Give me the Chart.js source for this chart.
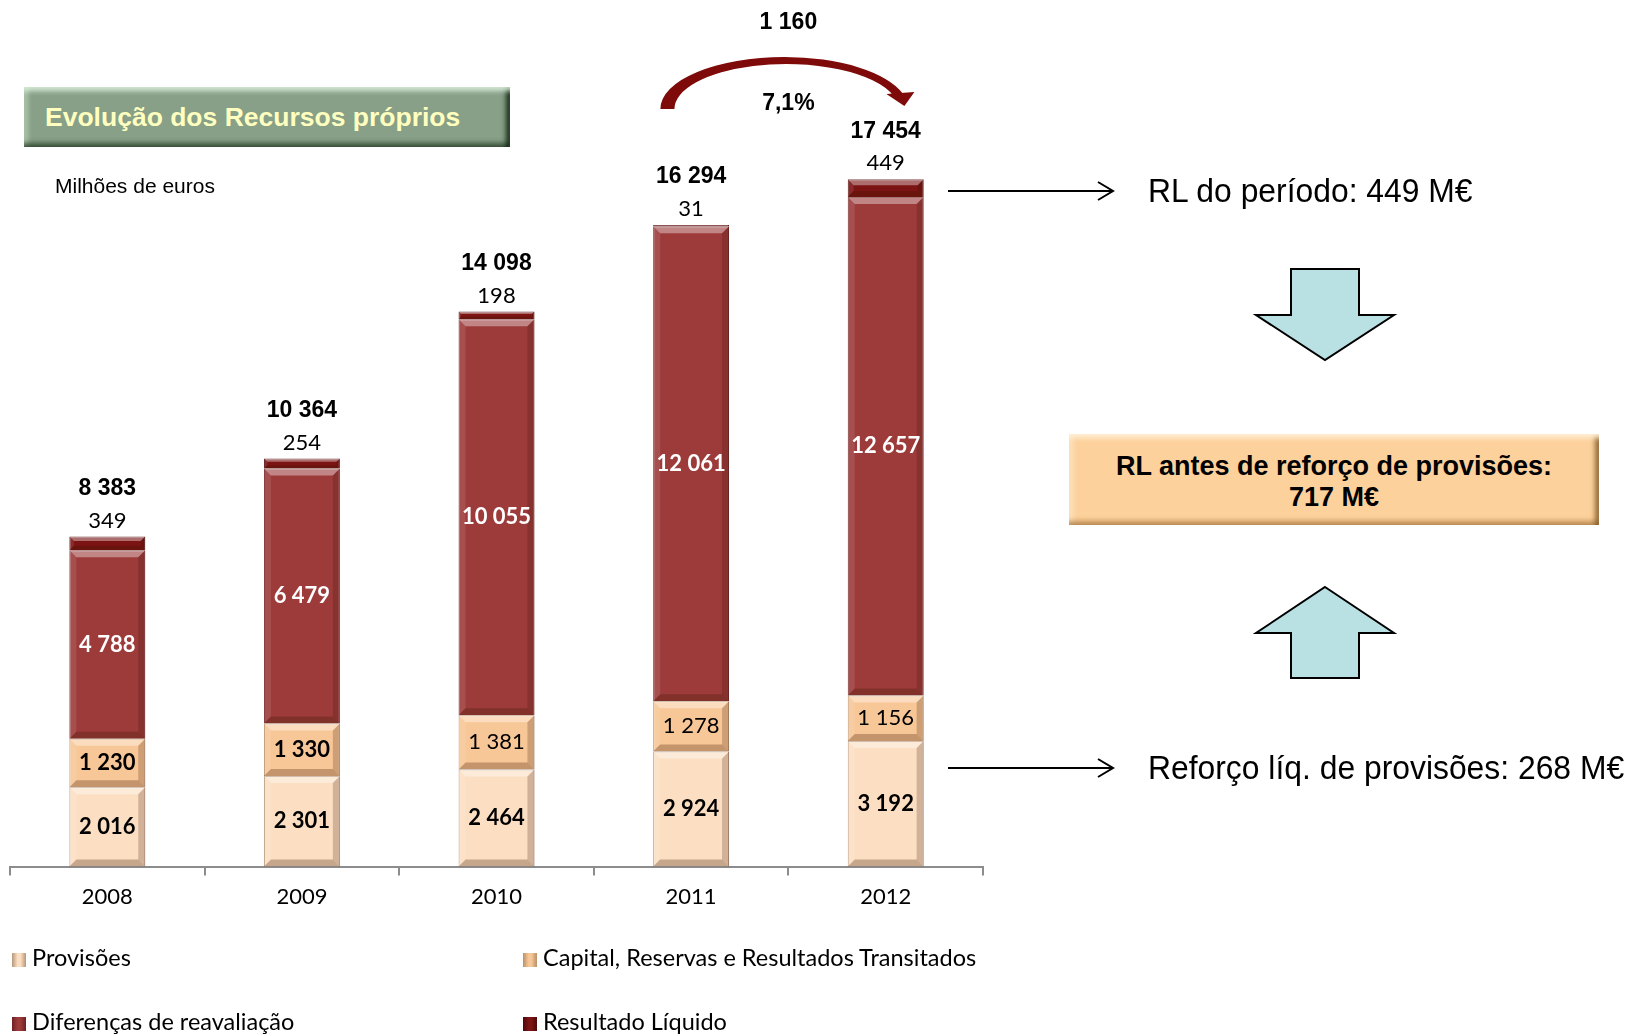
<!DOCTYPE html>
<html lang="pt">
<head>
<meta charset="utf-8">
<title>Evolução dos Recursos próprios</title>
<script src="https://cdn.jsdelivr.net/npm/chart.js@4.4.1/dist/chart.umd.min.js"></script>
<style>
  html, body { margin: 0; padding: 0; background: #fff; }
  #wrap { position: relative; width: 1637px; height: 1035px; overflow: hidden; font-family: 'Liberation Sans', Arial, sans-serif; }
  #chartBox { position: absolute; left: 0; top: 0; width: 1637px; height: 1035px; }
  .titleBox {
    position: absolute; left: 24px; top: 87px; width: 486px; height: 60px; box-sizing: border-box;
    background: #87a087; color: #ffffc0; font-weight: bold; font-size: 26.5px; line-height: 60px; padding-left: 21px; white-space: nowrap;
    box-shadow: inset 0 7px 5px -3px rgba(225,245,225,.85), inset -7px 0 5px -3px rgba(15,35,15,.9),
                inset 0 -7px 5px -3px rgba(30,50,30,.7), inset 7px 0 5px -3px rgba(200,225,200,.6);
  }
  .unit { position: absolute; left: 55px; top: 174px; font-size: 21px; }
  .note {
    position: absolute; left: 1148px; font-family: 'Liberation Sans Narrow', 'Liberation Sans', sans-serif; font-size: 33px;
    white-space: nowrap; transform: scaleX(0.965); transform-origin: left center;
  }
  .orangeBox {
    position: absolute; left: 1069px; top: 434px; width: 530px; height: 91px; box-sizing: border-box;
    background: #fcd19c; text-align: center; font-family: 'Liberation Sans Narrow', 'Liberation Sans', sans-serif;
    font-weight: bold; font-size: 27px; line-height: 31px; padding-top: 17px;
    box-shadow: inset 0 7px 5px -3px rgba(255,240,215,.95), inset -7px 0 5px -3px rgba(120,80,30,.8),
                inset 0 -7px 5px -3px rgba(150,100,40,.6), inset 7px 0 5px -3px rgba(255,235,205,.7);
  }
  #legend { position: absolute; left: 0; top: 0; }
  .lg { position: absolute; font-family: Lato, sans-serif; font-size: 23.5px; white-space: nowrap; line-height: 26px; }
  .lg i { display: inline-block; width: 14px; height: 14px; margin-right: 6px; vertical-align: -1px; }
  svg { position: absolute; left: 0; top: 0; }
</style>
</head>
<body>
<div id="wrap">
  <div id="chartBox"><canvas id="chart"></canvas></div>
  <div class="titleBox">Evolução dos Recursos próprios</div>
  <div class="unit">Milhões de euros</div>
  <div class="note" style="top:172px">RL do período: 449 M€</div>
  <div class="note" style="top:749px">Reforço líq. de provisões: 268 M€</div>
  <div class="orangeBox">RL antes de reforço de provisões:<br>717 M€</div>
  <svg width="1637" height="1035">
    <g stroke="#000" stroke-width="2" fill="none">
      <line x1="948" y1="191" x2="1112" y2="191"/>
      <polyline points="1098,182 1113,191 1098,200"/>
      <line x1="948" y1="768" x2="1112" y2="768"/>
      <polyline points="1098,759 1113,768 1098,777"/>
    </g>
    <g stroke="#000" stroke-width="2" fill="#b9e0e3">
      <polygon points="1291,269 1359,269 1359,315 1394,315 1325,360 1256,315 1291,315"/>
      <polygon points="1325,587 1394,633 1359,633 1359,678 1291,678 1291,633 1256,633"/>
    </g>
  </svg>
  <div id="legend"></div>
</div>
<script>
const years = ['2008', '2009', '2010', '2011', '2012'];
const provisoes = [2016, 2301, 2464, 2924, 3192];
const capital = [1230, 1330, 1381, 1278, 1156];
const reavaliacao = [4788, 6479, 10055, 12061, 12657];
const resultado = [349, 254, 198, 31, 449];

// bold labels only on the first two capital segments
const capitalBold = [true, true, false, false, false];

const fmt = n => String(n).replace(/\B(?=(\d{3})+(?!\d))/g, ' ');
const totals = years.map((_, i) => provisoes[i] + capital[i] + reavaliacao[i] + resultado[i]);

const bevelPlugin = {
  id: 'bevel',
  afterDatasetsDraw(chart) {
    const ctx = chart.ctx;
    chart.data.datasets.forEach((ds, di) => {
      chart.getDatasetMeta(di).data.forEach(bar => {
        const { x, y, base, width } = bar.getProps(['x', 'y', 'base', 'width'], true);
        const l = x - width / 2, r = x + width / 2;
        const t = Math.min(y, base), b = Math.max(y, base);
        const e = Math.min(7, (b - t) / 3);
        ctx.save();
        ctx.fillStyle = 'rgba(255,255,255,0.38)';
        ctx.beginPath(); ctx.moveTo(l, t); ctx.lineTo(r, t); ctx.lineTo(r - e, t + e); ctx.lineTo(l + e, t + e); ctx.closePath(); ctx.fill();
        ctx.fillStyle = 'rgba(255,255,255,0.10)';
        ctx.beginPath(); ctx.moveTo(l, t); ctx.lineTo(l + e, t + e); ctx.lineTo(l + e, b - e); ctx.lineTo(l, b); ctx.closePath(); ctx.fill();
        ctx.fillStyle = 'rgba(60,20,0,0.22)';
        ctx.beginPath(); ctx.moveTo(r, t); ctx.lineTo(r, b); ctx.lineTo(r - e, b - e); ctx.lineTo(r - e, t + e); ctx.closePath(); ctx.fill();
        ctx.fillStyle = 'rgba(60,20,0,0.28)';
        ctx.beginPath(); ctx.moveTo(l, b); ctx.lineTo(r, b); ctx.lineTo(r - e, b - e); ctx.lineTo(l + e, b - e); ctx.closePath(); ctx.fill();
        ctx.restore();
      });
    });
  }
};

const labelPlugin = {
  id: 'barLabels',
  afterDatasetsDraw(chart) {
    const ctx = chart.ctx;
    ctx.save();
    ctx.textAlign = 'center';
    ctx.textBaseline = 'middle';
    const metas = [0, 1, 2, 3].map(i => chart.getDatasetMeta(i).data);
    years.forEach((_, i) => {
      const seg = k => metas[k][i].getProps(['x', 'y', 'base'], true);
      const p = seg(0), c = seg(1), d = seg(2), rl = seg(3);
      ctx.fillStyle = '#000';
      ctx.font = 'bold 22px Lato';
      ctx.fillText(fmt(provisoes[i]), p.x, (p.y + p.base) / 2);
      ctx.font = (capitalBold[i] ? 'bold ' : '') + '22px Lato';
      ctx.fillText(fmt(capital[i]), c.x, (c.y + c.base) / 2);
      ctx.fillStyle = '#fff';
      ctx.font = 'bold 22px Lato';
      ctx.fillText(fmt(reavaliacao[i]), d.x, (d.y + d.base) / 2);
      ctx.fillStyle = '#000';
      ctx.font = '22px Lato';
      ctx.fillText(fmt(resultado[i]), rl.x, rl.y - 16);
      ctx.font = 'bold 23px "Liberation Sans"';
      ctx.fillText(fmt(totals[i]), rl.x, rl.y - 48);
    });
    ctx.restore();
  }
};

// curved growth arrow between the last two bars
const growthPlugin = {
  id: 'growth',
  afterDraw(chart) {
    const ctx = chart.ctx;
    const xs = chart.scales.x;
    const x1 = xs.getPixelForValue(3), x2 = xs.getPixelForValue(4);
    const cx = (x1 + x2) / 2 - 4;
    const cy = 109;
    const diff = totals[4] - totals[3];
    const pct = (diff / totals[3] * 100).toFixed(1).replace('.', ',');
    ctx.save();
    ctx.fillStyle = '#7e0a0a';
    ctx.beginPath();
    ctx.ellipse(cx, cy, 124, 52, 0, Math.PI, 2 * Math.PI - 0.3, false);
    ctx.ellipse(cx + 2, cy, 112, 45, 0, 2 * Math.PI - 0.3, Math.PI, true);
    ctx.closePath();
    ctx.fill();
    const hx = cx + 118;
    ctx.beginPath();
    ctx.moveTo(hx - 16, 94); ctx.lineTo(hx + 12, 92); ctx.lineTo(hx + 2, 106);
    ctx.closePath();
    ctx.fill();
    ctx.fillStyle = '#000';
    ctx.textAlign = 'center';
    ctx.textBaseline = 'middle';
    ctx.font = 'bold 23px "Liberation Sans"';
    ctx.fillText(fmt(diff), cx + 4, 23);
    ctx.fillText(pct + '%', cx + 4, 104);
    ctx.restore();
  }
};

const series = [
  { label: 'Provisões', data: provisoes, color: '#fcdfc3', border: '#b8977c' },
  { label: 'Capital, Reservas e Resultados  Transitados', data: capital, color: '#f8c797', border: '#b8906a' },
  { label: 'Diferenças de reavaliação', data: reavaliacao, color: '#9d3b3b', border: '#6e2020' },
  { label: 'Resultado Líquido', data: resultado, color: '#7c1414', border: '#4e0808' }
];

const chart = new Chart(document.getElementById('chart'), {
  type: 'bar',
  data: {
    labels: years,
    datasets: series.map(s => ({
      label: s.label,
      data: s.data,
      backgroundColor: s.color,
      borderColor: s.border,
      borderWidth: 1,
      categoryPercentage: 1,
      barPercentage: 0.39
    }))
  },
  options: {
    responsive: true,
    maintainAspectRatio: false,
    animation: false,
    layout: { padding: { left: 10, right: 654, top: 79, bottom: 117 } },
    plugins: { legend: { display: false }, tooltip: { enabled: false } },
    scales: {
      x: {
        stacked: true,
        grid: { drawOnChartArea: false, drawTicks: true, tickLength: 9, color: '#8c8c8c', lineWidth: 2 },
        border: { display: true, color: '#8c8c8c', width: 2 },
        ticks: { color: '#000', font: { family: 'Lato', size: 22 }, padding: 8 }
      },
      y: { stacked: true, display: false, min: 0, max: 20000 }
    }
  },
  plugins: [bevelPlugin, labelPlugin, growthPlugin]
});

// two-column legend under the axis
const legendPos = [[12, 944], [523, 944], [12, 1008], [523, 1008]];
const legend = document.getElementById('legend');
series.forEach((s, i) => {
  const el = document.createElement('div');
  el.className = 'lg';
  el.style.left = legendPos[i][0] + 'px';
  el.style.top = legendPos[i][1] + 'px';
  el.innerHTML = `<i style="background:linear-gradient(to right, ${s.border}, ${s.color} 40%, ${s.color} 60%, ${s.border})"></i>${s.label}`;
  legend.appendChild(el);
});
</script>
</body>
</html>
